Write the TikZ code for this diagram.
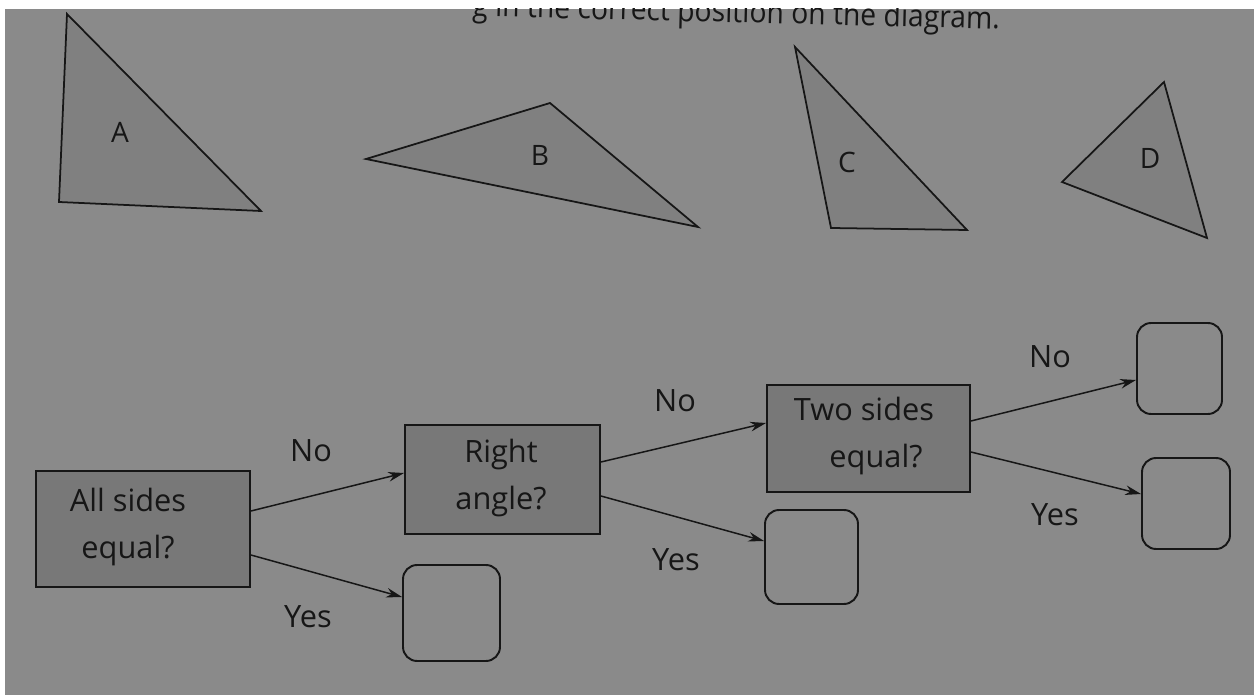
\documentclass[tikz,border=0pt]{standalone}
\usepackage{fontspec}
\setmainfont{Open Sans}
\newfontfamily\topfont[FakeStretch=0.92]{Open Sans}
\usetikzlibrary{arrows.meta,calc}
\definecolor{paper}{RGB}{138,138,138}
\definecolor{boxgray}{RGB}{120,120,120}
\definecolor{trigray}{RGB}{128,128,128}
\definecolor{ink}{RGB}{22,22,22}
\begin{document}
\begin{tikzpicture}[x=0.02cm,y=-0.02cm,
  qbox/.style={draw=ink, line width=1.1pt, fill=boxgray, inner sep=0pt},
  qtext/.style={text=ink, align=center, inner sep=0pt, font=\fontsize{17.5}{26.5}\selectfont},
  ans/.style={draw=ink, line width=1.1pt, rounded corners=8pt, inner sep=0pt},
  lab/.style={text=ink, inner sep=0pt, font=\fontsize{17.5}{21}\selectfont},
  tlab/.style={text=ink, inner sep=0pt, font=\fontsize{16}{18}\selectfont},
  tri/.style={draw=ink, line width=1pt, fill=trigray, line join=miter},
  arr/.style={draw=ink, line width=0.85pt, -{Stealth[length=9pt,width=5.5pt]}}]
\useasboundingbox (0,0) rectangle (1254,695);
\fill[white] (0,0) rectangle (1254,695);
\fill[paper] (5,9) rectangle (1254,695);
% top text, cut by paper edge
\begin{scope}
\clip (5,9) rectangle (1254,695);
\node[text=ink, anchor=base east, inner sep=0pt, rotate=-1.4, font=\topfont\fontsize{17.5}{20}\selectfont] (top) at (1000,29) {g in the correct position on the diagram.};
\end{scope}
% triangles
\draw[tri] (67,14) -- (59,202) -- (261,211) -- cycle;
\node[tlab] (la) at (120,132) {A};
\draw[tri] (366,159) -- (550,103) -- (698,227) -- cycle;
\node[tlab] (lb) at (540,155) {B};
\draw[tri] (795,47) -- (831,228) -- (967,230) -- cycle;
\node[tlab] (lc) at (847,162) {C};
\draw[tri] (1062,182) -- (1164,82) -- (1207,238) -- cycle;
\node[tlab] (ld) at (1150,158) {D};
% question boxes
\node[qbox, minimum width=4.28cm, minimum height=2.32cm] (b1) at (143,529) {};
\node[qtext] (t1) at (128,527) {All sides\\equal?};
\node[qbox, minimum width=3.9cm, minimum height=2.18cm] (b2) at (502.5,479.5) {};
\node[qtext] (t2) at (501,478) {Right\\angle?};
\node[qbox, minimum width=4.06cm, minimum height=2.14cm] (b3) at (868.5,438.5) {};
\node[qtext] (t3) at (864,436) {Two sides\\\hspace*{0.48cm}equal?};
% answer boxes
\node[ans, minimum width=1.94cm, minimum height=1.92cm] (e1) at (451.5,613) {};
\node[ans, minimum width=1.86cm, minimum height=1.88cm] (e2) at (811.5,557) {};
\node[ans, minimum width=1.7cm, minimum height=1.82cm] (e3) at (1179.5,368.5) {};
\node[ans, minimum width=1.76cm, minimum height=1.82cm] (e4) at (1186,503.5) {};
% connectors
\draw[arr] ($(b1.east)+(0,-18)$) -- ($(b2.west)+(0,-6.5)$);
\draw[arr] ($(b1.east)+(0,26)$) -- ($(e1.west)+(0,-16)$);
\draw[arr] ($(b2.east)+(0,-17.5)$) -- ($(b3.west)+(0,-15.5)$);
\draw[arr] ($(b2.east)+(0,16.5)$) -- ($(e2.west)+(0,-16)$);
\draw[arr] ($(b3.east)+(0,-17.5)$) -- ($(e3.west)+(0,11.5)$);
\draw[arr] ($(b3.east)+(0,13.5)$) -- ($(e4.west)+(0,-9.5)$);
% labels
\node[lab] (n1) at (311,451) {No};
\node[lab] (y1) at (308,617) {Yes};
\node[lab] (n2) at (675,401) {No};
\node[lab] (y2) at (676,560) {Yes};
\node[lab] (n3) at (1050,357) {No};
\node[lab] (y3) at (1055,515) {Yes};
\end{tikzpicture}
\end{document}
